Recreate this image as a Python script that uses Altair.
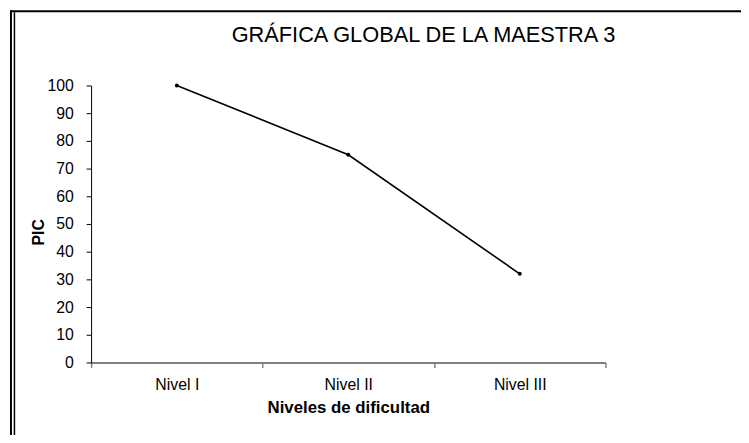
import altair as alt
import pandas as pd

niveles = ["Nivel I", "Nivel II", "Nivel III"]
pic = [100, 75, 32]
y_ticks = [0, 10, 20, 30, 40, 50, 60, 70, 80, 90, 100]

df = pd.DataFrame({"nivel": niveles, "pic": pic})

FONT = "Liberation Sans"

x_enc = alt.X(
    "nivel:N",
    sort=niveles,
    scale=alt.Scale(paddingInner=0, paddingOuter=0),
    axis=alt.Axis(
        title="Niveles de dificultad",
        titleFont=FONT, titleFontSize=17, titleFontWeight="bold", titleColor="black",
        titleBaseline="top", titleY=38, titleX=260, titleAlign="center",
        labelAngle=0, labelFont=FONT, labelFontSize=16, labelColor="black",
        labelPadding=9, labelBaseline="top",
        domainColor="#808080", domainWidth=2,
        tickColor="#808080", tickSize=5, tickWidth=1.5, tickBand="extent",
    ),
)
y_enc = alt.Y(
    "pic:Q",
    scale=alt.Scale(domain=[0, 100], nice=False),
    axis=alt.Axis(
        values=y_ticks, grid=False,
        title="PIC", titleFont=FONT, titleFontSize=16, titleFontWeight="bold", titleColor="black",
        titleAngle=-90, titleX=-53, titleY=148, titleAlign="center", titleBaseline="middle",
        labelFont=FONT, labelFontSize=16, labelColor="black", labelPadding=13,
        domainColor="black", domainWidth=1, tickColor="black", tickSize=5, tickWidth=1,
    ),
)

base = alt.Chart(df)
line = base.mark_line(color="black", strokeWidth=1.6).encode(x=x_enc, y=y_enc)
pts = base.mark_point(filled=True, color="black", size=16, opacity=1).encode(x=x_enc, y=y_enc)

frame_df = pd.DataFrame({"k": [0]})
top_line = alt.Chart(frame_df).mark_rule(color="black", strokeWidth=2).encode(
    x=alt.value(-82), x2=alt.value(660), y=alt.value(-75))
left1 = alt.Chart(frame_df).mark_rule(color="black", strokeWidth=2).encode(
    x=alt.value(-81), y=alt.value(-76), y2=alt.value(360))
left2 = alt.Chart(frame_df).mark_rule(color="black", strokeWidth=1.5).encode(
    x=alt.value(-77.5), y=alt.value(-74), y2=alt.value(360))

chart = alt.layer(line, pts, top_line, left1, left2).properties(
    width=520, height=280,
    background="white",
    autosize=alt.AutoSizeParams(type="none"),
    padding={"left": 84, "top": 76, "right": 137, "bottom": 71},
    title=alt.TitleParams(
        "GRÁFICA GLOBAL DE LA MAESTRA 3",
        font=FONT, fontSize=22, fontWeight="normal", color="black",
        anchor="middle", dx=76, offset=0, dy=55, baseline="alphabetic",
    ),
).configure_view(strokeWidth=0, stroke="transparent")

chart.save("out.html", embed_options={"renderer": "svg", "actions": False})
